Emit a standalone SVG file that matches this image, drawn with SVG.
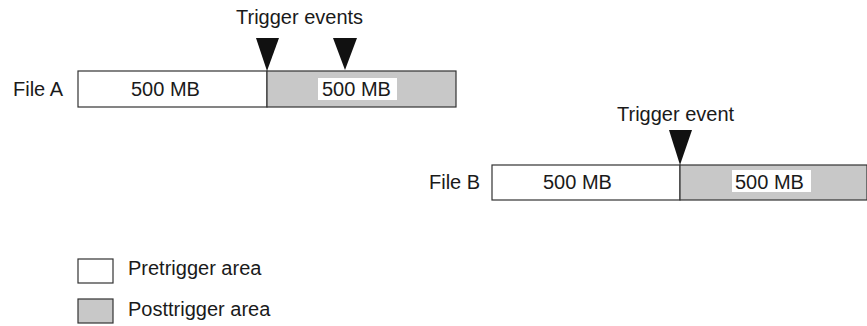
<svg xmlns="http://www.w3.org/2000/svg" width="867" height="326" viewBox="0 0 867 326">
<style>
text{font-family:"Liberation Sans",Arial,sans-serif;font-size:20px;fill:#1a1a1a}
.pre{fill:#fff;stroke:#333;stroke-width:1.2}
.post{fill:#c8c8c8;stroke:#333;stroke-width:1.2}
.lbl{fill:#fff}
.tri{fill:#111}
</style>
<rect width="867" height="326" fill="#fff"/>
<g id="fileA">
<text x="13" y="96">File A</text>
<rect class="pre" x="78" y="71" width="189" height="36"/>
<rect class="post" x="267" y="71" width="189" height="36"/>
<text x="131" y="96">500 MB</text>
<rect class="lbl" x="318" y="78" width="79" height="22"/>
<text x="322" y="96">500 MB</text>
</g>
<g id="fileB">
<text x="429" y="189">File B</text>
<rect class="pre" x="492" y="165" width="188" height="35"/>
<rect class="post" x="680" y="165" width="187" height="35"/>
<text x="543" y="189">500 MB</text>
<rect class="lbl" x="732" y="170" width="79" height="22"/>
<text x="735" y="189">500 MB</text>
</g>
<g id="triggersA">
<text x="236" y="24">Trigger events</text>
<polygon class="tri" points="256,38 279,38 267,71"/>
<polygon class="tri" points="333,38 357,38 345,70"/>
</g>
<g id="triggerB">
<text x="617" y="121">Trigger event</text>
<polygon class="tri" points="669,130 692,130 680,165"/>
</g>
<g id="legend">
<rect class="pre" x="78" y="259" width="35" height="24"/>
<text x="128" y="275">Pretrigger area</text>
<rect class="post" x="78" y="299" width="35" height="24"/>
<text x="128" y="316">Posttrigger area</text>
</g>
<g id="connectors"></g>
</svg>
